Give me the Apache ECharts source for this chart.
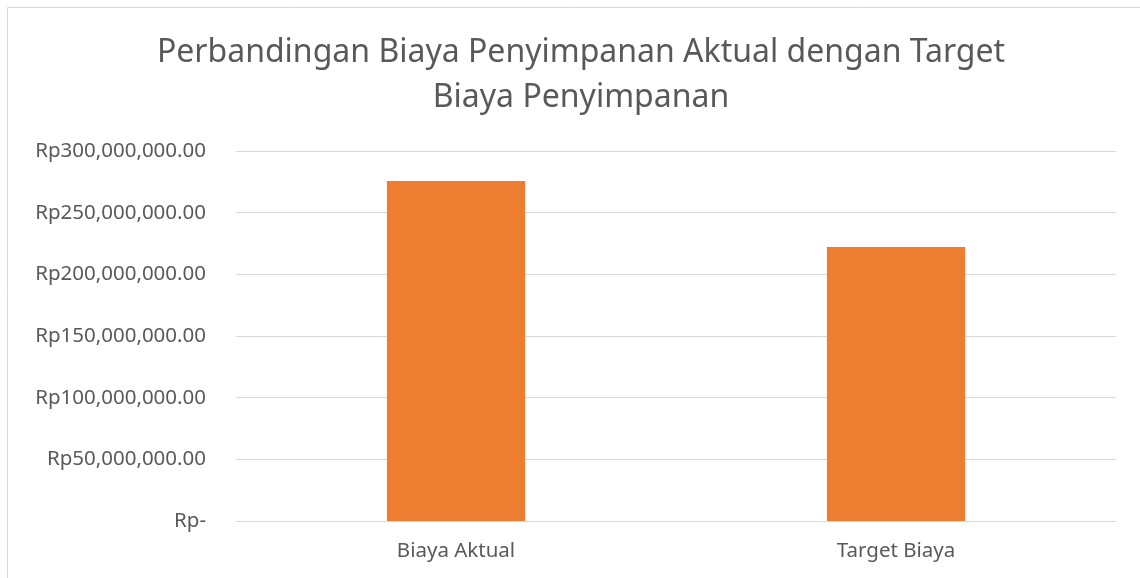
<!DOCTYPE html>
<html>
<head>
<meta charset="utf-8">
<script src="https://cdn.jsdelivr.net/npm/echarts@6/dist/echarts.min.js"></script>
<style>
  html, body { margin: 0; padding: 0; background: #fff; }
  #chart { width: 1140px; height: 578px; }
</style>
</head>
<body>
<div id="chart"></div>
<script>
// data
let categories = ['Biaya Aktual', 'Target Biaya'];
let biaya = [275700000, 222200000];
let yTickLabels = ['Rp-', 'Rp50,000,000.00', 'Rp100,000,000.00', 'Rp150,000,000.00',
    'Rp200,000,000.00', 'Rp250,000,000.00', 'Rp300,000,000.00'];
let yStep = 50000000;

let font = 'Noto Sans';

let biaya_option = {
    animation: false,
    backgroundColor: '#fff',
    title: {
        text: 'Perbandingan Biaya Penyimpanan Aktual dengan Target\nBiaya Penyimpanan',
        left: 576,
        top: 25,
        textAlign: 'center',
        textStyle: {
            color: '#595959',
            fontFamily: font,
            fontWeight: 'normal',
            fontSize: 32,
            lineHeight: 45
        }
    },
    graphic: [{
        type: 'rect',
        shape: { x: 7.5, y: 7.5, width: 1200, height: 700 },
        style: { fill: 'none', stroke: '#d9d9d9', lineWidth: 1 },
        silent: true
    }],
    grid: {
        left: 236,
        right: 24,
        top: 151,
        bottom: 57,
        containLabel: false
    },
    xAxis: {
        type: 'category',
        data: categories,
        axisLine: { lineStyle: { color: '#d9d9d9', width: 1 } },
        axisTick: { show: false },
        axisLabel: {
            color: '#595959',
            fontFamily: font,
            fontSize: 20.5,
            margin: 20
        }
    },
    yAxis: {
        type: 'value',
        min: 0,
        max: 300000000,
        interval: yStep,
        axisLine: { show: false },
        axisTick: { show: false },
        axisLabel: {
            color: '#595959',
            fontFamily: font,
            fontSize: 20.5,
            margin: 30,
            formatter: function (v) { return yTickLabels[Math.round(v / yStep)]; }
        },
        splitLine: { lineStyle: { color: '#d9d9d9', width: 1 } }
    },
    series: [{
        name: 'Biaya',
        type: 'bar',
        barWidth: '31.4%',
        itemStyle: { color: '#ed7d31' },
        data: biaya
    }]
};

var biaya_chart = echarts.init(document.getElementById('chart'));
biaya_chart.setOption(biaya_option);
</script>
</body>
</html>
